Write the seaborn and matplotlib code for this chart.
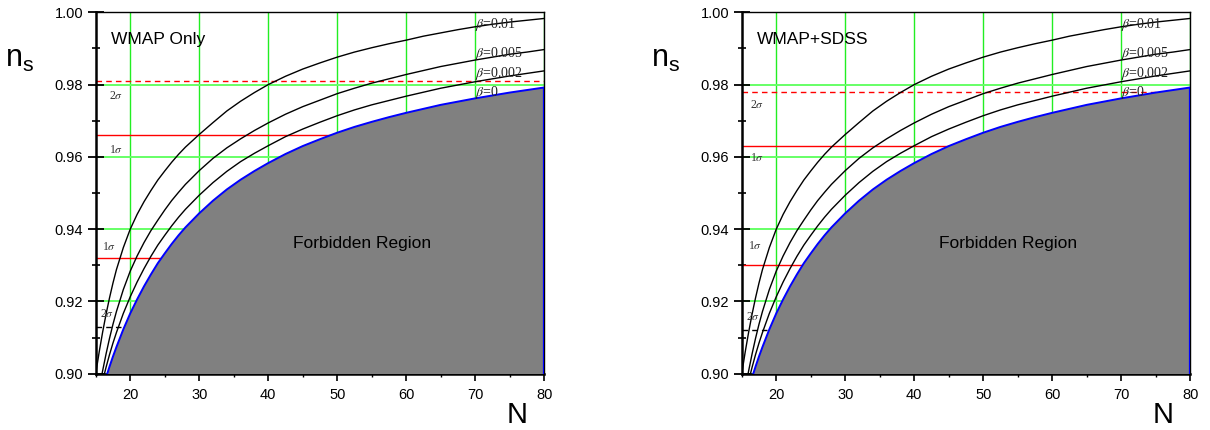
import matplotlib
matplotlib.use('Agg')
import matplotlib.pyplot as plt
import seaborn as sns
from matplotlib.ticker import MultipleLocator, FormatStrFormatter

# e-folding number N
N = [15, 15.5, 16, 16.5, 17, 17.5, 18, 19, 20, 21, 22, 23, 24, 25, 26, 27, 28, 30, 32, 34,
     36, 38, 40, 42.5, 45, 47.5, 50, 52.5, 55, 57.5, 60, 62.5, 65, 67.5, 70, 72.5, 75, 77.5, 80]

# n_s curves (beta = 0 is the edge of the forbidden region)
ns_b0 = [0.8889, 0.8925, 0.8958, 0.8990, 0.9020, 0.9048, 0.9074, 0.9123, 0.9167, 0.9206,
         0.9242, 0.9275, 0.9306, 0.9333, 0.9359, 0.9383, 0.9405, 0.9444, 0.9479, 0.9510,
         0.9537, 0.9561, 0.9583, 0.9608, 0.9630, 0.9649, 0.9667, 0.9683, 0.9697, 0.9710,
         0.9722, 0.9733, 0.9744, 0.9753, 0.9762, 0.9770, 0.9778, 0.9785, 0.9792]
ns_b002 = [0.8897, 0.8940, 0.8980, 0.9018, 0.9053, 0.9085, 0.9114, 0.9167, 0.9213, 0.9254,
           0.9291, 0.9325, 0.9356, 0.9383, 0.9409, 0.9433, 0.9455, 0.9494, 0.9529, 0.9560,
           0.9587, 0.9610, 0.9631, 0.9656, 0.9677, 0.9696, 0.9714, 0.9730, 0.9744, 0.9756,
           0.9768, 0.9779, 0.9790, 0.9799, 0.9808, 0.9816, 0.9824, 0.9831, 0.9838]
ns_b005 = [0.8909, 0.8960, 0.9008, 0.9055, 0.9098, 0.9137, 0.9172, 0.9233, 0.9284, 0.9326,
           0.9363, 0.9396, 0.9425, 0.9453, 0.9479, 0.9502, 0.9524, 0.9562, 0.9596, 0.9625,
           0.9650, 0.9673, 0.9694, 0.9718, 0.9739, 0.9757, 0.9775, 0.9790, 0.9804, 0.9816,
           0.9828, 0.9839, 0.9850, 0.9859, 0.9868, 0.9876, 0.9884, 0.9890, 0.9897]
ns_b01 = [0.9000, 0.9060, 0.9115, 0.9165, 0.9210, 0.9251, 0.9288, 0.9349, 0.9400, 0.9441,
          0.9476, 0.9507, 0.9536, 0.9561, 0.9585, 0.9607, 0.9627, 0.9662, 0.9695, 0.9727,
          0.9754, 0.9778, 0.9800, 0.9823, 0.9843, 0.9860, 0.9876, 0.9890, 0.9902, 0.9913,
          0.9923, 0.9934, 0.9943, 0.9952, 0.9960, 0.9967, 0.9973, 0.9978, 0.9983]

beta_labels = [r'$\beta$=0.01', r'$\beta$=0.005', r'$\beta$=0.002', r'$\beta$=0']
beta_label_y = [0.9965, 0.9887, 0.9830, 0.9778]

# observational bounds per panel
panel_titles = ['WMAP Only', 'WMAP+SDSS']
red_2sigma = [0.981, 0.978]     # dashed red
red_1sigma = [0.966, 0.963]     # solid red
low_1sigma = [0.932, 0.930]     # solid red
low_2sigma = [0.913, 0.912]     # dashed black
sigma_label_y = [[0.9768, 0.9620, 0.9351, 0.9166],
                 [0.9744, 0.9596, 0.9354, 0.9156]]
sigma_label_x = [[17.9, 17.9, 16.9, 16.7],
                 [17.2, 17.2, 17.0, 16.6]]
sigma_labels = [r'2$\sigma$', r'1$\sigma$', r'1$\sigma$', r'2$\sigma$']

sns.set_style('ticks')
plt.rcParams['font.family'] = ['Liberation Sans', 'DejaVu Sans']
plt.rcParams['mathtext.fontset'] = 'stix'
plt.rcParams['text.color'] = 'black'
plt.rcParams['xtick.color'] = 'black'
plt.rcParams['ytick.color'] = 'black'
plt.rcParams['axes.edgecolor'] = 'black'

fig = plt.figure(figsize=(12.1, 4.3), dpi=100)
lefts = [0.0791, 0.6130]

for i in range(2):
    ax = fig.add_axes([lefts[i], 0.1307, 0.3707, 0.8407])
    ax.set_xlim(15, 80)
    ax.set_ylim(0.90, 1.00)

    ax.xaxis.set_major_locator(MultipleLocator(10))
    ax.xaxis.set_minor_locator(MultipleLocator(5))
    ax.yaxis.set_major_locator(MultipleLocator(0.02))
    ax.yaxis.set_minor_locator(MultipleLocator(0.01))
    ax.yaxis.set_major_formatter(FormatStrFormatter('%.2f'))
    ax.tick_params(axis='y', which='major', direction='inout', length=11, width=1.3, labelsize=10.5)
    ax.tick_params(axis='y', which='minor', direction='inout', length=6, width=1.2)
    ax.tick_params(axis='x', which='major', direction='out', length=5, width=1.2, labelsize=10.5, pad=5)
    ax.tick_params(axis='x', which='minor', direction='out', length=2.5, width=1.0)

    ax.xaxis.grid(True, which='major', color='#22ee22', lw=1.0, zorder=0)
    ax.yaxis.grid(True, which='major', color='#66ff66', lw=1.4, zorder=0)
    ax.set_axisbelow(True)

    for side in ['left', 'bottom']:
        ax.spines[side].set_linewidth(1.8)
    for side in ['top', 'right']:
        ax.spines[side].set_linewidth(1.0)

    # bound lines (the forbidden region covers their right part)
    ax.axhline(red_2sigma[i], color='red', lw=1.0, ls=(0, (4, 3)), zorder=1)
    ax.axhline(red_1sigma[i], color='red', lw=1.0, zorder=1)
    ax.axhline(low_1sigma[i], color='red', lw=1.0, zorder=1)
    ax.axhline(low_2sigma[i], color='black', lw=1.0, ls=(0, (4, 3)), zorder=1)

    # forbidden region
    ax.fill_between(N, ns_b0, 0.85, color='#808080', lw=0, zorder=3)
    sns.lineplot(x=N, y=ns_b0, ax=ax, color='blue', lw=1.4, zorder=4)
    ax.vlines(N[-1], 0.90, ns_b0[-1], color='blue', lw=1.6, zorder=4)

    for ys in [ns_b002, ns_b005, ns_b01]:
        sns.lineplot(x=N, y=ys, ax=ax, color='black', lw=1.0, zorder=4)

    for lab, yl in zip(beta_labels, beta_label_y):
        ax.text(70, yl, lab, fontsize=10, family='Liberation Serif', ha='left', va='center',
                zorder=5, color='#222222')
    for lab, xl, yl in zip(sigma_labels, sigma_label_x[i], sigma_label_y[i]):
        ax.text(xl, yl, lab, fontsize=8.5, family='Liberation Serif', ha='center', va='center',
                zorder=5, color='#333333')

    ax.text(17.2, 0.9912, panel_titles[i], fontsize=12.5, ha='left', va='baseline', zorder=5)
    ax.text(53.6, 0.9347, 'Forbidden Region', fontsize=12.5, ha='center', va='baseline', zorder=5)

    ax.text(-0.17, 0.85, r'$\mathregular{n_s}$', transform=ax.transAxes, fontsize=22,
            ha='center', va='baseline')
    ax.text(0.94, -0.136, 'N', transform=ax.transAxes, fontsize=21,
            ha='center', va='baseline')
    ax.set_xlabel('')
    ax.set_ylabel('')

fig.savefig('out.png', dpi=100)
